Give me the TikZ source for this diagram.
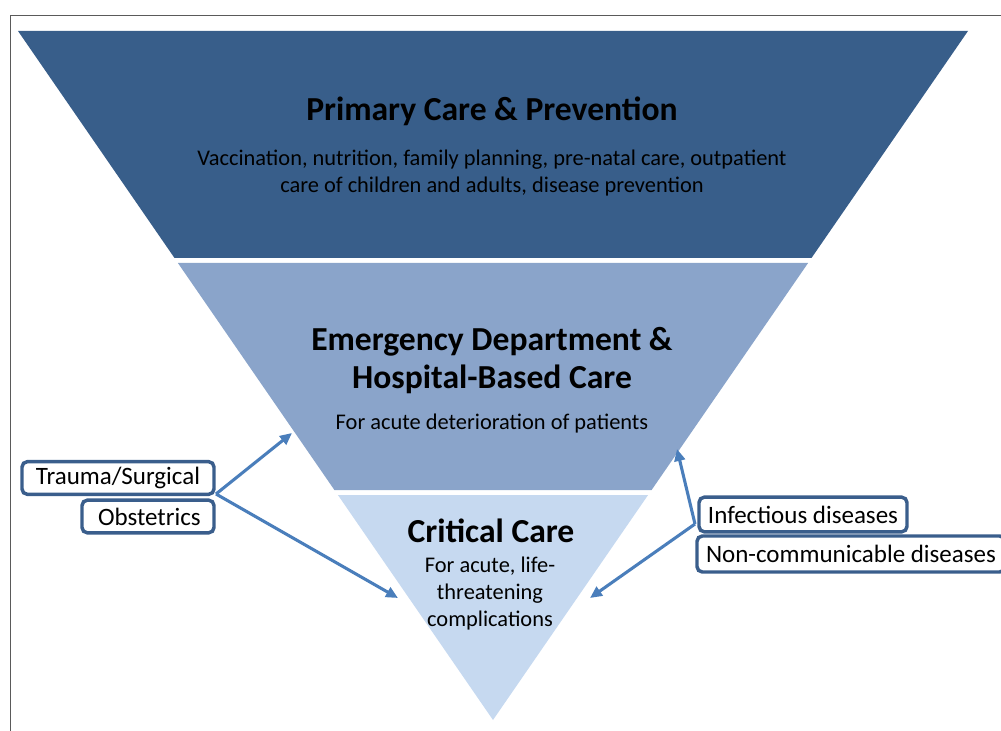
\documentclass[tikz,border=0pt]{standalone}
\usepackage{fontspec}
\setmainfont{Carlito}
\usetikzlibrary{arrows.meta}
\definecolor{topband}{RGB}{56,94,138}
\definecolor{midband}{RGB}{138,164,202}
\definecolor{lowband}{RGB}{198,217,240}
\definecolor{arrowblue}{RGB}{74,126,187}
\definecolor{boxline}{RGB}{58,94,140}
\definecolor{frameline}{RGB}{90,90,90}
\tikzset{
  causebox/.style={draw=boxline, line width=2.6pt, rounded corners=4pt, fill=white,
    inner sep=0pt, minimum height=24.5pt, font=\fontsize{18.75}{22}\selectfont},
  pointer/.style={draw=arrowblue, line width=2.3pt, -{Triangle[length=9pt,width=8pt]}},
  bandtitle/.style={align=center, font=\fontsize{25.2}{28.5}\bfseries\selectfont},
  bandtext/.style={align=center, font=\fontsize{16.8}{20.2}\selectfont}
}
\begin{document}
\begin{tikzpicture}[x=0.75pt,y=-0.75pt]
\useasboundingbox (0,0) rectangle (1001,731);
\draw[frameline, line width=1pt] (10.5,740) -- (10.5,15.5) -- (1010,15.5);
% the three bands
\fill[topband] (18,31) -- (968,31) -- (811.5,258) -- (174.5,258) -- cycle;
\fill[midband] (177.9,263) -- (808.1,263) -- (651.6,490) -- (334.4,490) -- cycle;
\fill[lowband] (337.9,495) -- (648.1,495) -- (493,720) -- cycle;
% band texts
\node[bandtitle] (ptitle) at (492,111) {Primary Care \& Prevention};
\node[bandtext] (ptext) at (492,173) {Vaccination, nutrition, family planning, pre-natal care, outpatient\\care of children and adults, disease prevention};
\node[bandtitle] (etitle) at (492,360.5) {Emergency Department \&\\Hospital-Based Care};
\node[bandtext] (etext) at (492,423.5) {For acute deterioration of patients};
\node[bandtitle] (ctitle) at (491,531) {Critical Care};
\node[bandtext, font=\fontsize{16.8}{20}\selectfont] (ctext) at (490,593.5) {For acute, life-\\threatening\\complications};
% causes
\node[causebox, minimum width=144pt] (trauma) at (118,478) {Trauma/Surgical};
\node[causebox, minimum width=99pt] (obst) at (148,516.5) {\hspace{2pt}Obstetrics};
\node[causebox, minimum width=156pt, minimum height=26pt] (infect) at (803,514.5) {Infectious diseases\hspace{4.5pt}};
\node[causebox, minimum width=231pt, minimum height=27pt] (noncomm) at (851,554) {Non-communicable diseases};
% arrows
\coordinate (lsplit) at (216,494);
\coordinate (rsplit) at (695,524);
\coordinate (etipl) at (292,433);
\coordinate (ctipl) at (398,598);
\coordinate (etipr) at (677,449);
\coordinate (ctipr) at (590,598);
\draw[pointer] (lsplit) -- (etipl);
\draw[pointer] (lsplit) -- (ctipl);
\draw[pointer] (rsplit) -- (etipr);
\draw[pointer] (rsplit) -- (ctipr);
\end{tikzpicture}
\end{document}
